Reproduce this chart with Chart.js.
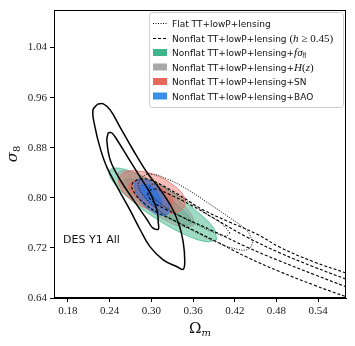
<!DOCTYPE html>
<html><head><meta charset="utf-8">
<script src="https://cdn.jsdelivr.net/npm/chart.js@4.4.1/dist/chart.umd.min.js"></script>
<style>html,body{margin:0;padding:0;background:#fff}</style>
</head><body><canvas id="c" width="355" height="346"></canvas>
<script>
// ---- axes ----
const xTicks = [0.18, 0.24, 0.30, 0.36, 0.42, 0.48, 0.54];
const yTicks = [0.64, 0.72, 0.80, 0.88, 0.96, 1.04];
const xRange = [0.16, 0.58];
const yRange = [0.64, 1.10];

// ---- contours, [Omega_m, sigma_8] ----
const des95 = [[0.223,0.950],[0.231,0.950],[0.241,0.940],[0.255,0.913],[0.274,0.876],[0.294,0.840],[0.313,0.813],[0.331,0.781],[0.341,0.753],[0.346,0.728],[0.348,0.701],[0.346,0.686],[0.337,0.690],[0.317,0.701],[0.298,0.722],[0.284,0.749],[0.269,0.781],[0.251,0.817],[0.236,0.849],[0.226,0.881],[0.219,0.913],[0.216,0.940],[0.223,0.950]];
const des68 = [[0.238,0.904],[0.243,0.904],[0.251,0.892],[0.266,0.865],[0.284,0.833],[0.298,0.808],[0.308,0.781],[0.310,0.760],[0.310,0.750],[0.302,0.752],[0.294,0.765],[0.274,0.797],[0.255,0.829],[0.241,0.860],[0.236,0.892],[0.238,0.904]];

const fs8_95 = [[0.394,0.733],[0.390,0.751],[0.366,0.778],[0.329,0.809],[0.288,0.834],[0.256,0.847],[0.240,0.844],[0.244,0.827],[0.268,0.799],[0.305,0.768],[0.345,0.743],[0.378,0.730],[0.394,0.733]];
const fs8_68 = [[0.358,0.759],[0.355,0.769],[0.340,0.786],[0.317,0.805],[0.291,0.821],[0.271,0.830],[0.261,0.828],[0.264,0.817],[0.279,0.800],[0.303,0.781],[0.328,0.765],[0.348,0.757],[0.358,0.759]];

const hz95 = [[0.361,0.756],[0.359,0.770],[0.343,0.792],[0.318,0.815],[0.289,0.834],[0.265,0.843],[0.253,0.840],[0.254,0.826],[0.270,0.805],[0.296,0.781],[0.324,0.762],[0.348,0.753],[0.361,0.756]];
const hz68 = [[0.336,0.776],[0.335,0.783],[0.326,0.796],[0.311,0.809],[0.295,0.820],[0.282,0.825],[0.275,0.824],[0.276,0.816],[0.285,0.804],[0.300,0.791],[0.316,0.780],[0.329,0.774],[0.336,0.776]];

const sn95 = [[0.348,0.786],[0.347,0.802],[0.333,0.819],[0.311,0.834],[0.286,0.842],[0.265,0.842],[0.254,0.832],[0.255,0.817],[0.269,0.799],[0.291,0.784],[0.316,0.776],[0.337,0.777],[0.348,0.786]];
const sn68 = [[0.331,0.791],[0.330,0.800],[0.320,0.811],[0.305,0.821],[0.289,0.827],[0.275,0.827],[0.268,0.821],[0.269,0.812],[0.279,0.801],[0.294,0.791],[0.310,0.786],[0.324,0.786],[0.331,0.791]];

const bao95 = [[0.324,0.774],[0.326,0.784],[0.322,0.798],[0.312,0.813],[0.300,0.825],[0.287,0.830],[0.278,0.828],[0.276,0.818],[0.280,0.804],[0.289,0.789],[0.302,0.778],[0.315,0.772],[0.324,0.774]];
const bao68 = [[0.313,0.788],[0.315,0.794],[0.312,0.802],[0.306,0.812],[0.299,0.819],[0.291,0.822],[0.286,0.821],[0.284,0.815],[0.287,0.807],[0.293,0.797],[0.301,0.790],[0.308,0.787],[0.313,0.788]];

const flat95 = [[0.446,0.728],[0.438,0.747],[0.409,0.771],[0.380,0.793],[0.351,0.814],[0.323,0.830],[0.298,0.838],[0.284,0.830],[0.282,0.816],[0.294,0.797],[0.312,0.779],[0.337,0.761],[0.366,0.744],[0.394,0.729],[0.423,0.718],[0.440,0.718],[0.446,0.728]];
const flat68 = [[0.413,0.744],[0.402,0.758],[0.377,0.776],[0.351,0.795],[0.327,0.811],[0.308,0.822],[0.298,0.819],[0.300,0.806],[0.312,0.792],[0.337,0.774],[0.366,0.757],[0.392,0.744],[0.407,0.739],[0.413,0.744]];

const nonflat95 = [[0.580,0.680],[0.533,0.698],[0.485,0.721],[0.452,0.742],[0.413,0.761],[0.374,0.781],[0.351,0.797],[0.327,0.813],[0.302,0.827],[0.284,0.830],[0.272,0.821],[0.277,0.806],[0.291,0.790],[0.308,0.777],[0.334,0.763],[0.363,0.747],[0.392,0.731],[0.438,0.705],[0.485,0.682],[0.533,0.661],[0.580,0.642]];
const nonflat68 = [[0.580,0.670],[0.533,0.690],[0.485,0.712],[0.438,0.737],[0.389,0.768],[0.356,0.789],[0.327,0.805],[0.305,0.814],[0.295,0.808],[0.301,0.795],[0.320,0.782],[0.341,0.771],[0.389,0.747],[0.438,0.721],[0.485,0.699],[0.533,0.678],[0.580,0.658]];

const labelPos = [0.173, 0.733];
const labelText = 'DES Y1 All';

// ---- legend ----
const legendRows = [
  {kind:'dotted', seg:[['Flat TT+lowP+lensing','s']]},
  {kind:'dashed', seg:[['Nonflat TT+lowP+lensing ','s'],['(','r'],['h','i'],[' \u2265 ','r'],['0.45)','r']]},
  {kind:'green', seg:[['Nonflat TT+lowP+lensing+','s'],['f\u03c3','i'],['8','sub']]},
  {kind:'gray', seg:[['Nonflat TT+lowP+lensing+','s'],['H','i'],['(','r'],['z','i'],[')','r']]},
  {kind:'red', seg:[['Nonflat TT+lowP+lensing+SN','s']]},
  {kind:'blue', seg:[['Nonflat TT+lowP+lensing+BAO','s']]}
];

const COL = {
  green:{base:'62,182,138', patch:'rgb(62,182,138)'},
  gray:{base:'150,150,150', patch:'rgb(168,168,168)'},
  red:{base:'230,100,88', patch:'rgb(232,104,92)'},
  blue:{base:'40,115,225', patch:'rgb(58,142,232)'}
};

const pts = a => a.map(p => ({x:p[0], y:p[1]}));
function filled(a, col, alpha){
  return {data:pts(a), showLine:true, fill:'shape', backgroundColor:`rgba(${col.base},${alpha})`, borderColor:`rgba(${col.base},0.9)`, borderWidth:0.8, pointRadius:0, tension:0.4};
}
function lined(a, dash, w){
  return {data:pts(a), showLine:true, fill:false, borderColor:'#000', borderWidth:w, borderDash:dash, pointRadius:0, tension:0.4};
}
// listed top-most first (Chart.js draws the first dataset last)
const layers = [
  lined(des68, [], 1.5), lined(des95, [], 1.5),
  lined(flat68, [1,1.5], 1), lined(flat95, [1,1.5], 1),
  lined(nonflat68, [3,2], 1.1), lined(nonflat95, [3,2], 1.1),
  filled(bao68, COL.blue, 0.75), filled(bao95, COL.blue, 0.55),
  filled(sn68, COL.red, 0.5), filled(sn95, COL.red, 0.42),
  filled(hz68, COL.gray, 0.35), filled(hz95, COL.gray, 0.4),
  filled(fs8_68, COL.green, 0.45), filled(fs8_95, COL.green, 0.5)
];

const deco = {
  id:'deco',
  afterDraw(chart){
    const ctx = chart.ctx, a = chart.chartArea, sx = chart.scales.x, sy = chart.scales.y;
    ctx.save();
    ctx.beginPath();
    ctx.setLineDash([]);
    ctx.strokeStyle = '#000'; ctx.lineWidth = 1;
    ctx.strokeRect(Math.round(a.left)+0.5, Math.round(a.top)+0.5, Math.round(a.right-a.left)-1, Math.round(a.bottom-a.top)-1);
    ctx.fillStyle = '#111'; ctx.font = '11px "DejaVu Sans"'; ctx.textBaseline = 'middle'; ctx.textAlign = 'left';
    ctx.fillText(labelText, sx.getPixelForValue(labelPos[0]), sy.getPixelForValue(labelPos[1]));
    ctx.textBaseline = 'alphabetic';
    ctx.font = '15px "DejaVu Serif"';
    const wO = ctx.measureText('\u03a9').width;
    ctx.font = 'italic 10px "DejaVu Serif"';
    const wm = ctx.measureText('m').width;
    const x0 = (a.left + a.right)/2 - (wO + wm)/2;
    ctx.font = '15px "DejaVu Serif"'; ctx.fillText('\u03a9', x0, 333);
    ctx.font = 'italic 10px "DejaVu Serif"'; ctx.fillText('m', x0 + wO, 336);
    ctx.save();
    ctx.translate(17, 154); ctx.rotate(-Math.PI/2);
    ctx.font = 'italic 15px "DejaVu Serif"';
    const ws = ctx.measureText('\u03c3').width;
    ctx.font = '10px "DejaVu Serif"';
    const w8 = ctx.measureText('8').width;
    const s0 = -(ws + w8)/2;
    ctx.font = 'italic 15px "DejaVu Serif"'; ctx.fillText('\u03c3', s0, 0);
    ctx.font = '10px "DejaVu Serif"'; ctx.fillText('8', s0 + ws, 3);
    ctx.restore();
    const L = 149.5, T = 12.5, R = 343.5, B = 107.5;
    ctx.beginPath(); ctx.roundRect(L, T, R-L, B-T, 3);
    ctx.fillStyle = 'rgba(255,255,255,0.85)'; ctx.fill();
    ctx.strokeStyle = '#cccccc'; ctx.lineWidth = 1; ctx.stroke();
    const rowY = [23, 38, 52.5, 67, 81.5, 96];
    legendRows.forEach((r, i) => {
      const y = rowY[i];
      if (r.kind === 'dotted' || r.kind === 'dashed'){
        ctx.beginPath(); ctx.setLineDash(r.kind === 'dotted' ? [1,1.5] : [3,2]);
        ctx.strokeStyle = '#000'; ctx.lineWidth = 1;
        ctx.moveTo(153, y+0.5); ctx.lineTo(167, y+0.5); ctx.stroke(); ctx.setLineDash([]);
      } else {
        ctx.fillStyle = COL[r.kind].patch; ctx.fillRect(153, y-3.5, 14, 7);
      }
      let x = 172; ctx.fillStyle = '#111';
      for (const [t, st] of r.seg){
        let dy = 3.5;
        if (st === 's') ctx.font = '9px "DejaVu Sans"';
        else if (st === 'i') ctx.font = 'italic 11px "Liberation Serif"';
        else if (st === 'r') ctx.font = '11px "Liberation Serif"';
        else { ctx.font = '7.5px "Liberation Serif"'; dy = 5.5; }
        ctx.fillText(t, x, y + dy);
        x += ctx.measureText(t).width;
      }
    });
    ctx.restore();
  }
};

new Chart(document.getElementById('c'), {
  type:'scatter',
  data:{datasets:layers},
  options:{
    responsive:false, animation:false, devicePixelRatio:1,
    layout:{padding:{left:0, top:10, right:9, bottom:0}},
    plugins:{legend:{display:false}, tooltip:{enabled:false}},
    scales:{
      x:{type:'linear', min:xRange[0], max:xRange[1],
         afterFit(s){ s.height = 48; },
         afterBuildTicks(s){ s.ticks = xTicks.map(v => ({value:v})); },
         ticks:{callback:v => v.toFixed(2), font:{family:'Liberation Serif', size:11}, color:'#222', padding:3, maxRotation:0, autoSkip:false},
         grid:{drawOnChartArea:false, tickLength:4, tickColor:'#000', tickWidth:1},
         border:{color:'#000', width:1}},
      y:{type:'linear', min:yRange[0], max:yRange[1],
         afterFit(s){ s.width = 54; },
         afterBuildTicks(s){ s.ticks = yTicks.map(v => ({value:v})); },
         ticks:{callback:v => v.toFixed(2), font:{family:'Liberation Serif', size:11}, color:'#222', padding:3, autoSkip:false},
         grid:{drawOnChartArea:false, tickLength:4, tickColor:'#000', tickWidth:1},
         border:{color:'#000', width:1}}
    }
  },
  plugins:[deco]
});
</script></body></html>
